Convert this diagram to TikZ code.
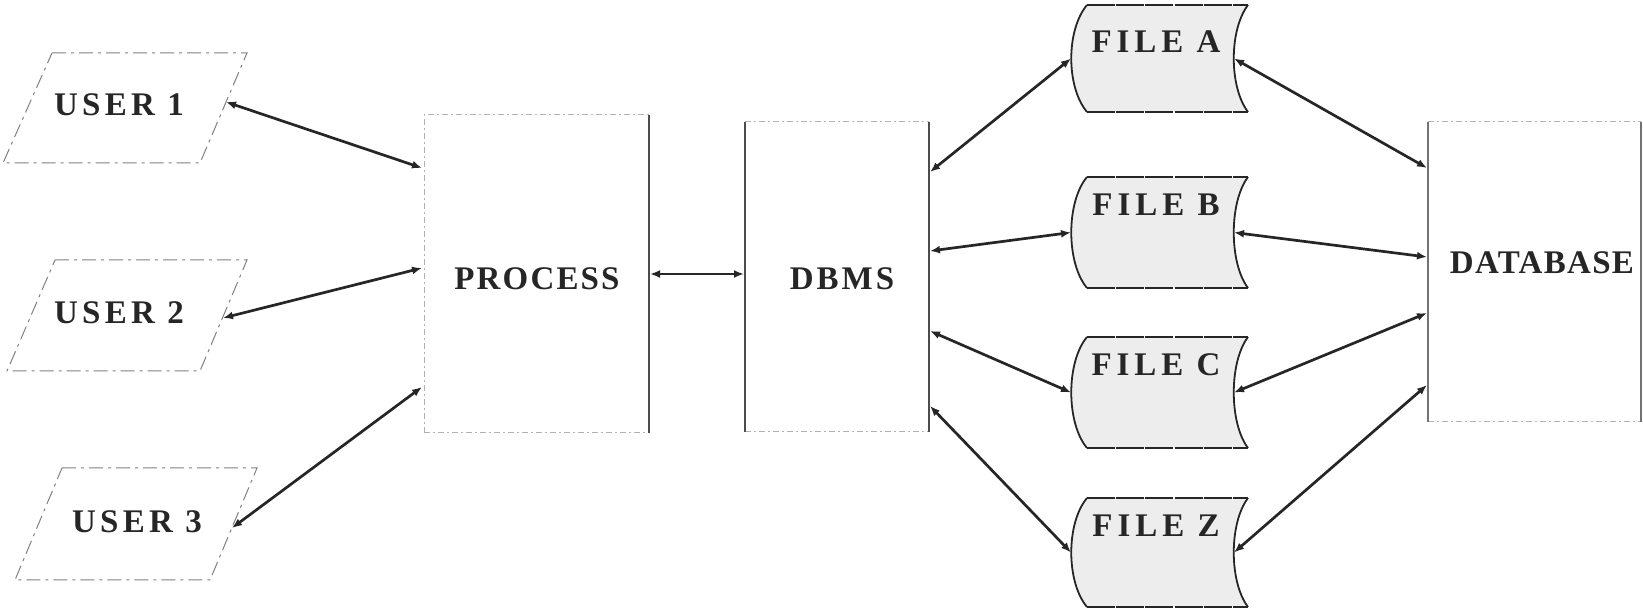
\documentclass[tikz,border=0pt]{standalone}
\usepackage{fontspec}
\setmainfont{Liberation Serif}
\usetikzlibrary{arrows.meta}
\begin{document}
\begin{tikzpicture}[x=0.5pt,y=-0.5pt,
  lbl/.style={font=\fontsize{16.5}{18}\selectfont\bfseries, text=black!85, inner sep=0pt},
  faint/.style={draw=black!30, line width=0.5pt, dash pattern=on 3pt off 1.5pt on 1pt off 1.5pt},
  sideline/.style={draw=black!70, line width=0.6pt},
  userbox/.style={draw=black!50, line width=0.5pt, dash pattern=on 7pt off 2.5pt on 1.5pt off 2.5pt},
  filebody/.style={fill=black!7},
  fileside/.style={draw=black!85, line width=0.9pt},
  filerim/.style={draw=black!85, line width=1.3pt, dash pattern=on 14pt off 0.6pt},
  link/.style={draw=black!85, line width=1.35pt, {Latex[length=5pt,width=4pt]}-{Latex[length=5pt,width=4pt]}}
]
\useasboundingbox (0,0) rectangle (1643,613);

% ---- users (input/output parallelograms)
\draw[userbox] (52,53) -- (247,53) -- (200,163) -- (3,163) -- cycle;
\node[lbl] (user1) at (119,105) {\addfontfeature{LetterSpace=13}USER 1};
\coordinate (u1) at (226,102);

\draw[userbox] (55,260) -- (247,260) -- (200,371) -- (7,371) -- cycle;
\node[lbl] (user2) at (119,313) {\addfontfeature{LetterSpace=13}USER 2};
\coordinate (u2) at (223,318);

\draw[userbox] (62,468) -- (257,468) -- (210,580) -- (15,580) -- cycle;
\node[lbl] (user3) at (137,522) {\addfontfeature{LetterSpace=13}USER 3};
\coordinate (u3) at (232,528);

% ---- process box
\draw[faint] (424,433) -- (424,115) -- (649,115);
\draw[faint] (424,433) -- (649,433);
\draw[sideline] (649,115) -- (649,433);
\node[lbl] (process) at (537,279) {\addfontfeature{LetterSpace=6.5}PROCESS};
\coordinate (p1) at (422,168);
\coordinate (p2) at (422,268);
\coordinate (p3) at (422,387);
\coordinate (pr) at (650,274);

% ---- DBMS box
\draw[faint] (745,122) -- (929,122);
\draw[faint] (745,432) -- (929,432);
\draw[sideline] (745,122) -- (745,432);
\draw[sideline] (929,122) -- (929,432);
\node[lbl] (dbms) at (842,279) {\addfontfeature{LetterSpace=9}DBMS};
\coordinate (dl) at (744,274);
\coordinate (dA) at (930,172);
\coordinate (dB) at (930,251);
\coordinate (dC) at (930,331);
\coordinate (dZ) at (930,406);

% ---- database box
\draw[faint] (1428,122) -- (1641,122);
\draw[faint] (1428,422) -- (1641,422);
\draw[sideline, draw=black!55] (1428,122) -- (1428,422);
\draw[sideline, draw=black!55] (1641,122) -- (1641,422);
\node[lbl] (database) at (1542,263) {\addfontfeature{LetterSpace=4}DATABASE};
\coordinate (bA) at (1427,168);
\coordinate (bB) at (1427,257);
\coordinate (bC) at (1427,313);
\coordinate (bZ) at (1427,385);

% ---- files
\foreach \n/\t/\b/\o in {A/5/112/37,B/177/288/28,C/337/448/28,Z/498/607/28} {
  \pgfmathsetmacro\m{(\t+\b)/2}
  \fill[filebody] (1087,\t) -- (1248,\t) .. controls (1229,\t+25) and (1229,\b-25) .. (1248,\b)
     -- (1087,\b) .. controls (1066,\b-25) and (1066,\t+25) .. (1087,\t) -- cycle;
  \draw[filerim] (1087,\t) -- (1248,\t);
  \draw[filerim] (1087,\b) -- (1248,\b);
  \draw[fileside] (1087,\t) .. controls (1066,\t+25) and (1066,\b-25) .. (1087,\b);
  \draw[fileside] (1248,\t) .. controls (1229,\t+25) and (1229,\b-25) .. (1248,\b);
  \node[lbl] (file\n) at (1156,\t+\o) {\addfontfeature{LetterSpace=15}FILE \n};
  \coordinate (fl\n) at (1071,\m);
  \coordinate (fr\n) at (1234,\m);
}

% ---- connectors
\draw[link] (u1) -- (p1);
\draw[link] (u2) -- (p2);
\draw[link] (u3) -- (p3);
\draw[link] (pr) -- (dl);
\foreach \n in {A,B,C,Z} {
  \draw[link] (d\n) -- (fl\n);
  \draw[link] (fr\n) -- (b\n);
}
\end{tikzpicture}
\end{document}
